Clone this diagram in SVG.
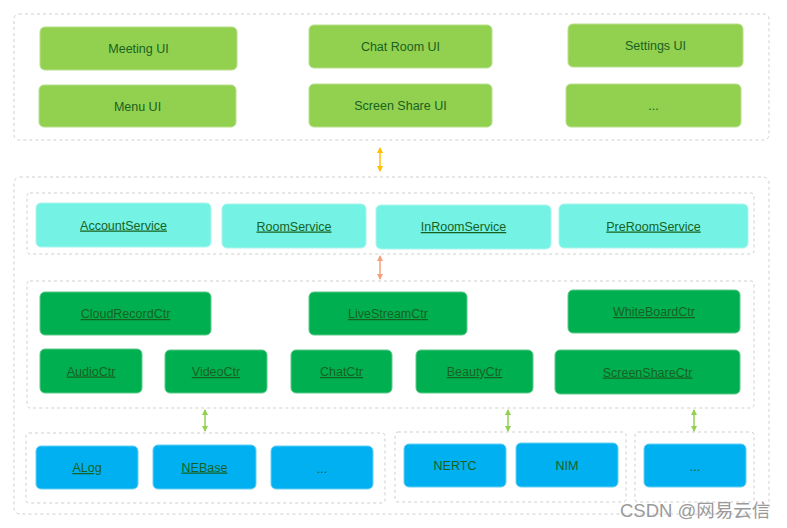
<svg xmlns="http://www.w3.org/2000/svg" width="787" height="528" viewBox="0 0 787 528">
<style>
.grp{fill:none;stroke:#cfcfcf;stroke-width:1;stroke-dasharray:3 3}
.ui{fill:#92D050;stroke:#b8e08a;stroke-width:1}
.svc{fill:#74F2E3;stroke:#a8f6ec;stroke-width:1}
.ctr{fill:#00B050;stroke:#5cc98a;stroke-width:1}
.lib{fill:#00B0F0;stroke:#66cff5;stroke-width:1}
text{font-family:"Liberation Sans",Arial,sans-serif;font-size:12.5px;fill:#17621F;text-anchor:middle}
.u{text-decoration:underline}
.ur{text-decoration:underline}
.wm{font-size:18.5px;fill:#9a9a9a;text-anchor:start;font-family:"Liberation Sans","Noto Sans CJK SC",sans-serif}
.a1{stroke:#FFC000;stroke-width:1.5;fill:none}
.a2{stroke:#F4A07C;stroke-width:1.5;fill:none}
.a3{stroke:#92D050;stroke-width:1.5;fill:none}
</style>
<defs>
<marker id="mo" viewBox="0 0 6 6" refX="5" refY="3" markerWidth="4" markerHeight="4" orient="auto-start-reverse"><path d="M0,0L6,3L0,6z" fill="#FFC000"/></marker>
<marker id="mr" viewBox="0 0 6 6" refX="5" refY="3" markerWidth="4" markerHeight="4" orient="auto-start-reverse"><path d="M0,0L6,3L0,6z" fill="#F4A07C"/></marker>
<marker id="mg" viewBox="0 0 6 6" refX="5" refY="3" markerWidth="4" markerHeight="4" orient="auto-start-reverse"><path d="M0,0L6,3L0,6z" fill="#92D050"/></marker>
</defs>
<rect width="787" height="528" fill="#ffffff"/>
<g id="groups">
<rect class="grp" x="14" y="14" width="755" height="126" rx="5"/>
<rect class="grp" x="14" y="177" width="755" height="337" rx="6"/>
<rect class="grp" x="27" y="193" width="727" height="61" rx="3"/>
<rect class="grp" x="27" y="281" width="727" height="127" rx="3"/>
<rect class="grp" x="26" y="433" width="359" height="70" rx="3"/>
<rect class="grp" x="395" y="432" width="231" height="70" rx="3"/>
<rect class="grp" x="635" y="432" width="119" height="70" rx="3"/>
</g>
<g id="meeting-ui"><rect class="ui" x="40" y="27" width="197" height="43" rx="5"/><text x="138.5" y="53">Meeting UI</text></g>
<g id="menu-ui"><rect class="ui" x="39" y="85" width="197" height="42" rx="5"/><text x="137.5" y="110.5">Menu UI</text></g>
<g id="chat-room-ui"><rect class="ui" x="309" y="25" width="183" height="43" rx="5"/><text x="400.5" y="51">Chat Room UI</text></g>
<g id="screen-share-ui"><rect class="ui" x="309" y="84" width="183" height="43" rx="5"/><text x="400.5" y="110">Screen Share UI</text></g>
<g id="settings-ui"><rect class="ui" x="568" y="24" width="175" height="43" rx="5"/><text x="655.5" y="50">Settings UI</text></g>
<g id="more-ui"><rect class="ui" x="566" y="84" width="175" height="43" rx="5"/><text x="653.5" y="110">...</text></g>
<g id="account-service"><rect class="svc" x="36" y="203" width="175" height="44" rx="5"/><text class="u" x="123.5" y="229.5">AccountService</text></g>
<g id="room-service"><rect class="svc" x="222" y="204" width="144" height="44" rx="5"/><text class="u" x="294" y="230.5">RoomService</text></g>
<g id="inroom-service"><rect class="svc" x="376" y="205" width="175" height="44" rx="5"/><text class="u" x="463.5" y="231">InRoomService</text></g>
<g id="preroom-service"><rect class="svc" x="559" y="204" width="189" height="44" rx="5"/><text class="u" x="653.5" y="230.5">PreRoomService</text></g>
<g id="cloudrecord-ctr"><rect class="ctr" x="40" y="292" width="171" height="43" rx="5"/><text class="ur" x="125.5" y="318">CloudRecordCtr</text></g>
<g id="livestream-ctr"><rect class="ctr" x="309" y="292" width="158" height="43" rx="5"/><text class="ur" x="388" y="318">LiveStreamCtr</text></g>
<g id="whiteboard-ctr"><rect class="ctr" x="568" y="290" width="172" height="43" rx="5"/><text class="ur" x="654" y="316">WhiteBoardCtr</text></g>
<g id="audio-ctr"><rect class="ctr" x="40" y="349" width="102" height="44" rx="5"/><text class="ur" x="91" y="375.5">AudioCtr</text></g>
<g id="video-ctr"><rect class="ctr" x="165" y="350" width="102" height="43" rx="5"/><text class="ur" x="216" y="376">VideoCtr</text></g>
<g id="chat-ctr"><rect class="ctr" x="291" y="350" width="101" height="43" rx="5"/><text class="ur" x="341.5" y="376">ChatCtr</text></g>
<g id="beauty-ctr"><rect class="ctr" x="416" y="350" width="117" height="43" rx="5"/><text class="ur" x="474.5" y="376">BeautyCtr</text></g>
<g id="screenshare-ctr"><rect class="ctr" x="555" y="350" width="185" height="44" rx="5"/><text class="ur" x="647.5" y="376.5">ScreenShareCtr</text></g>
<g id="alog"><rect class="lib" x="36" y="446" width="102" height="43" rx="5"/><text class="u" x="87" y="472">ALog</text></g>
<g id="nebase"><rect class="lib" x="153" y="445" width="103" height="44" rx="5"/><text class="u" x="204.5" y="471.5">NEBase</text></g>
<g id="more-base"><rect class="lib" x="271" y="446" width="102" height="43" rx="5"/><text x="322" y="472.5">...</text></g>
<g id="nertc"><rect class="lib" x="404" y="444" width="102" height="43" rx="5"/><text x="455" y="470">NERTC</text></g>
<g id="nim"><rect class="lib" x="516" y="443" width="102" height="44" rx="5"/><text x="567" y="469.5">NIM</text></g>
<g id="more-sdk"><rect class="lib" x="644" y="444" width="102" height="43" rx="5"/><text x="695" y="470.5">...</text></g>
<g id="connectors">
<line class="a1" x1="380" y1="148" x2="380" y2="171" marker-start="url(#mo)" marker-end="url(#mo)"/>
<line class="a2" x1="380" y1="256" x2="380" y2="279" marker-start="url(#mr)" marker-end="url(#mr)"/>
<line class="a3" x1="205" y1="410" x2="205" y2="431" marker-start="url(#mg)" marker-end="url(#mg)"/>
<line class="a3" x1="508" y1="410" x2="508" y2="431" marker-start="url(#mg)" marker-end="url(#mg)"/>
<line class="a3" x1="694" y1="410" x2="694" y2="431" marker-start="url(#mg)" marker-end="url(#mg)"/>
</g>
<text class="wm" x="620" y="517">CSDN @网易云信</text>
</svg>
